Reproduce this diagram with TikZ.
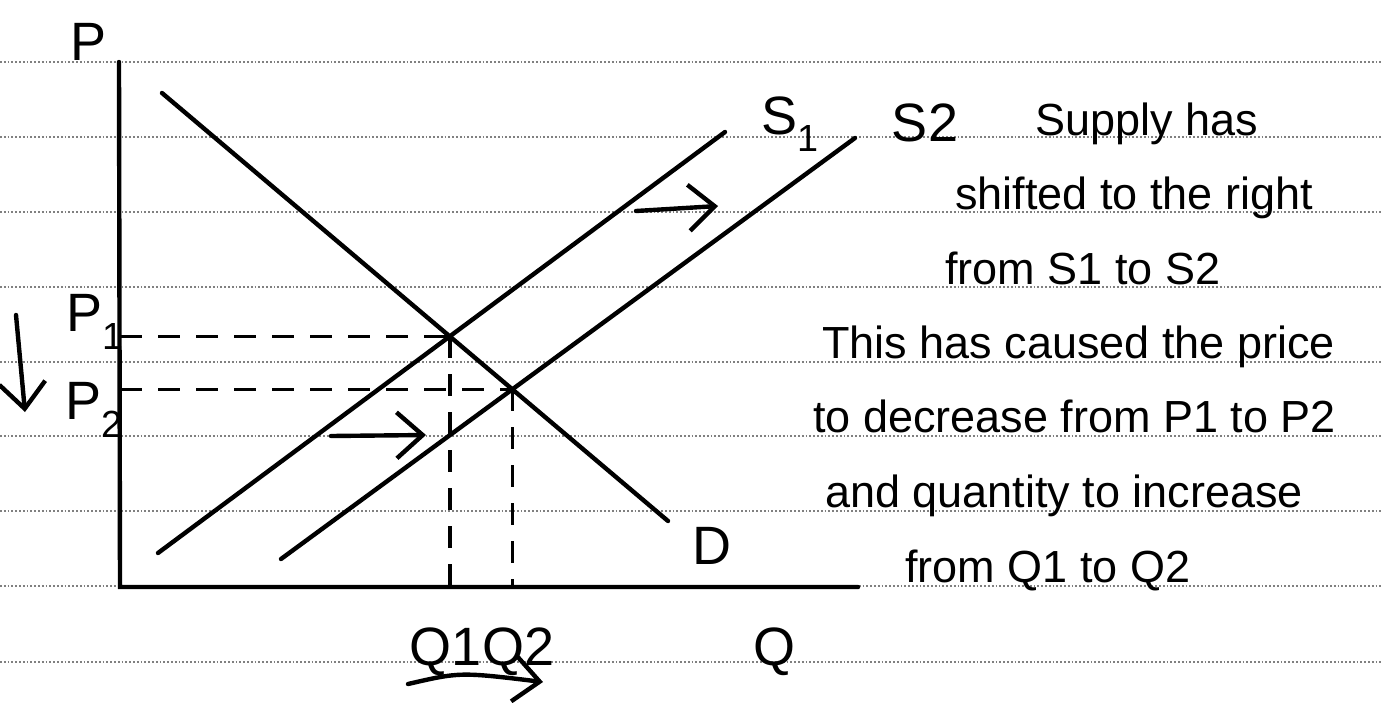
\documentclass[tikz,border=0pt]{standalone}
\usepackage{fontspec}
\setmainfont{Liberation Sans}
\usetikzlibrary{arrows.meta,intersections}
\begin{document}
\begin{tikzpicture}[x=1pt,y=-1pt,
  ruled/.style={draw=black!50,line width=1.8pt,dotted},
  curve/.style={line width=4.4pt,line cap=round},
  axis/.style={line width=4.4pt,line cap=round},
  guide/.style={line width=3.6pt,dash pattern=on 22pt off 16pt},
  shiftarrow/.style={line width=4.4pt,line cap=round,-{Straight Barb[length=26pt,width=46pt,line width=4.4pt]}},
  lbl/.style={font=\fontsize{54}{58}\selectfont,inner sep=0pt},
  note/.style={font=\fontsize{45}{50}\selectfont,inner sep=0pt,anchor=base west}]
\useasboundingbox (0,0) rectangle (1383,702);
% notebook lines
\foreach \yy in {62,137,212,287,362,436,511,586,662}
  \draw[ruled] (0,\yy) -- (1383,\yy);
% axes
\coordinate (O) at (120,587);
\coordinate (Ptop) at (119,62);
\coordinate (Qend) at (858,587);
\draw[axis] (Ptop) -- (O) -- (Qend);
% curves
\coordinate (D0) at (162,93);
\coordinate (D1) at (668,521);
\coordinate (S10) at (158,553);
\coordinate (S11) at (725,132);
\coordinate (S20) at (281,559);
\coordinate (S21) at (855,138);
\draw[curve,name path=D] (D0) -- (D1);
\draw[curve,name path=S1] (S10) -- (S11);
\draw[curve,name path=S2] (S20) -- (S21);
\path[name intersections={of=D and S1,by=E1}];
\path[name intersections={of=D and S2,by=E2}];
% guides
\coordinate (P1ax) at (O |- E1);
\coordinate (P2ax) at (O |- E2);
\coordinate (Q1ax) at (E1 |- O);
\coordinate (Q2ax) at (E2 |- O);
\draw[guide] (P1ax) -- (E1);
\draw[guide] (P2ax) -- (E2);
\draw[guide] (E1) -- (Q1ax);
\draw[guide] (E2) -- (Q2ax);
% labels
\node[lbl] (P) at (89,42) {P};
\node[lbl] (P1) at (95,322) {P\textsubscript{1}};
\node[lbl] (P2) at (94,410) {P\textsubscript{2}};
\node[lbl] (S1l) at (790,124) {S\textsubscript{1}};
\node[lbl] (S2l) at (925,123) {S2};
\node[lbl] (Dl) at (712,546) {D};
\node[lbl] (Q1Q2) at (482,652) {Q1Q2};
\node[lbl] (Ql) at (774,652) {Q};
% arrows
\coordinate (a1s) at (636,211);
\coordinate (a1e) at (718,206);
\coordinate (a2s) at (331,436);
\coordinate (a2e) at (426,435);
\coordinate (a3s) at (16,315);
\coordinate (a3e) at (25,412);
\coordinate (a4s) at (408,684);
\coordinate (a4e) at (543,682);
\draw[shiftarrow] (a1s) -- (a1e);
\draw[shiftarrow] (a2s) -- (a2e);
\draw[shiftarrow] (a3s) -- (a3e);
\draw[shiftarrow] (a4s) .. controls (460,672) .. (a4e);
% notes
\node[note] (n1) at (1035,135) {Supply has};
\node[note] (n2) at (955,209) {shifted to the right};
\node[note] (n3) at (945,284) {from S1 to S2};
\node[note] (n4) at (822,358) {This has caused the price};
\node[note] (n5) at (813,432) {to decrease from P1 to P2};
\node[note] (n6) at (825,507) {and quantity to increase};
\node[note] (n7) at (905,582) {from Q1 to Q2};
\end{tikzpicture}
\end{document}
